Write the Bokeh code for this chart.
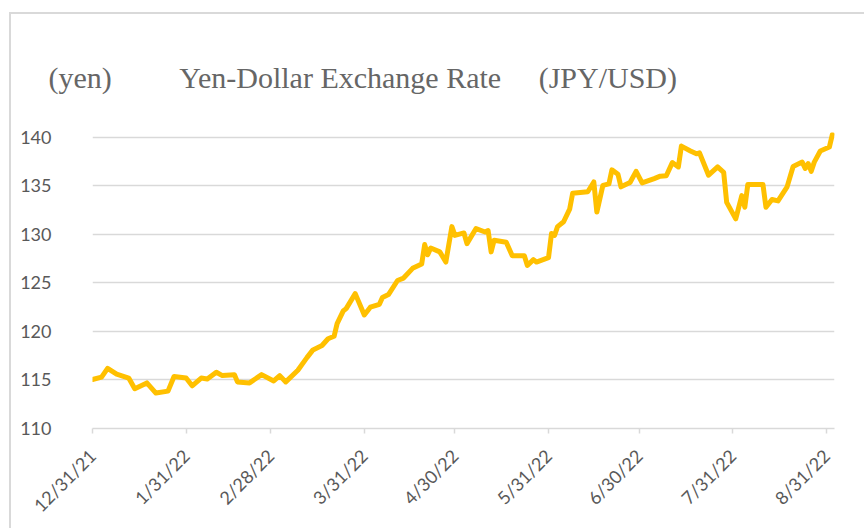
import pandas as pd
from bokeh.plotting import figure
from bokeh.models import FixedTicker, Title, Range1d
from bokeh.embed import file_html
from bokeh.resources import INLINE

dates = [
    "2021-12-31", "2022-01-03", "2022-01-05", "2022-01-08", "2022-01-12", "2022-01-14",
    "2022-01-18", "2022-01-21", "2022-01-25", "2022-01-27", "2022-01-31", "2022-02-02",
    "2022-02-05", "2022-02-07", "2022-02-10", "2022-02-12", "2022-02-16", "2022-02-17",
    "2022-02-21", "2022-02-25", "2022-03-01", "2022-03-03", "2022-03-05", "2022-03-09",
    "2022-03-12", "2022-03-14", "2022-03-17", "2022-03-19", "2022-03-21", "2022-03-22",
    "2022-03-24", "2022-03-25", "2022-03-28", "2022-03-31", "2022-04-02", "2022-04-05",
    "2022-04-06", "2022-04-08", "2022-04-11", "2022-04-13", "2022-04-16", "2022-04-19",
    "2022-04-20", "2022-04-21", "2022-04-22", "2022-04-25", "2022-04-27", "2022-04-29",
    "2022-04-30", "2022-05-03", "2022-05-04", "2022-05-07", "2022-05-10", "2022-05-11",
    "2022-05-12", "2022-05-13", "2022-05-17", "2022-05-19", "2022-05-23", "2022-05-24",
    "2022-05-26", "2022-05-27", "2022-05-31", "2022-06-01", "2022-06-02", "2022-06-03",
    "2022-06-05", "2022-06-07", "2022-06-08", "2022-06-13", "2022-06-15", "2022-06-16",
    "2022-06-18", "2022-06-20", "2022-06-21", "2022-06-23", "2022-06-24", "2022-06-27",
    "2022-06-29", "2022-07-01", "2022-07-05", "2022-07-07", "2022-07-09", "2022-07-11",
    "2022-07-13", "2022-07-14", "2022-07-17", "2022-07-19", "2022-07-20", "2022-07-23",
    "2022-07-26", "2022-07-28", "2022-07-29", "2022-08-01", "2022-08-03", "2022-08-04",
    "2022-08-05", "2022-08-10", "2022-08-11", "2022-08-13", "2022-08-15", "2022-08-18",
    "2022-08-20", "2022-08-23", "2022-08-24", "2022-08-25", "2022-08-26", "2022-08-27",
    "2022-08-29", "2022-09-01", "2022-09-02",
]
rates = [
    115.05, 115.3, 116.2, 115.6, 115.2, 114.1,
    114.7, 113.65, 113.85, 115.35, 115.2, 114.4,
    115.2, 115.1, 115.8, 115.45, 115.55, 114.8,
    114.7, 115.55, 114.9, 115.45, 114.8, 116.0,
    117.3, 118.1, 118.55, 119.25, 119.5, 120.8,
    122.1, 122.35, 123.9, 121.7, 122.5, 122.8,
    123.5, 123.8, 125.25, 125.5, 126.5, 126.95,
    128.95, 127.9, 128.6, 128.2, 127.15, 130.8,
    129.9, 130.15, 129.05, 130.6, 130.25, 130.4,
    128.2, 129.4, 129.2, 127.8, 127.8, 126.8,
    127.4, 127.15, 127.6, 130.1, 129.9, 130.8,
    131.3, 132.6, 134.25, 134.4, 135.4, 132.3,
    135.05, 135.2, 136.65, 136.2, 134.9, 135.35,
    136.5, 135.3, 135.75, 136.0, 136.05, 137.4,
    136.95, 139.1, 138.6, 138.3, 138.4, 136.1,
    136.95, 136.4, 133.3, 131.6, 134.0, 132.8,
    135.15, 135.15, 132.8, 133.6, 133.45, 134.9,
    137.0, 137.45, 136.8, 137.3, 136.5, 137.45,
    138.6, 139.0, 140.3,
]
tick_dates = ["2021-12-31", "2022-01-31", "2022-02-28", "2022-03-31", "2022-04-30",
              "2022-05-31", "2022-06-30", "2022-07-31", "2022-08-31"]
tick_labels = ["12/31/21", "1/31/22", "2/28/22", "3/31/22", "4/30/22",
               "5/31/22", "6/30/22", "7/31/22", "8/31/22"]
y_ticks = [110, 115, 120, 125, 130, 135, 140]

title_parts = ["(yen)", "Yen-Dollar Exchange Rate", "(JPY/USD)"]

start = pd.Timestamp(dates[0])
x = [(pd.Timestamp(d) - start).days for d in dates]
tx = [(pd.Timestamp(d) - start).days for d in tick_dates]

OX, OY = 11, 14  # page offset of the figure content (margin + border)

p = figure(width=866 - OX, height=530 - OY, output_backend="svg", toolbar_location=None,
           x_range=Range1d(0, 245.7), y_range=Range1d(110, 140.5),
           min_border_left=92 - OX, min_border_right=32, min_border_top=132 - OY,
           min_border_bottom=102,
           styles={"margin-left": "9px", "margin-top": "12px",
                   "border-left": "2px solid #d9d9d9", "border-top": "2px solid #d9d9d9"})
p.outline_line_color = None
p.background_fill_color = "white"
p.border_fill_color = "white"

p.line(x, rates, line_color="#FFC000", line_width=5, line_join="round", line_cap="round")

# axes
p.xaxis.ticker = FixedTicker(ticks=tx)
p.xaxis.major_label_overrides = {t: l for t, l in zip(tx, tick_labels)}
p.xaxis.major_label_orientation = 0.785398
p.xaxis.axis_line_color = "#d9d9d9"
p.xaxis.axis_line_width = 1.5
p.xaxis.major_tick_line_color = "#d9d9d9"
p.xaxis.major_tick_line_width = 1.5
p.xaxis.major_tick_out = 5
p.xaxis.major_tick_in = 0
p.xaxis.minor_tick_line_color = None
p.xaxis.major_label_text_font = "Lato"
p.xaxis.major_label_text_font_size = "18px"
p.xaxis.major_label_text_color = "#595959"
p.xaxis.major_label_standoff = 19

p.yaxis.ticker = FixedTicker(ticks=y_ticks)
p.yaxis.axis_line_color = None
p.yaxis.major_tick_line_color = None
p.yaxis.minor_tick_line_color = None
p.yaxis.major_label_text_font = "Lato"
p.yaxis.major_label_text_font_size = "18px"
p.yaxis.major_label_text_color = "#595959"
p.yaxis.major_label_standoff = 35

p.xgrid.grid_line_color = None
p.ygrid.grid_line_color = "#d9d9d9"
p.ygrid.grid_line_width = 1.5

sp = "\u00a0"
title_text = title_parts[0] + sp * 9 + title_parts[1] + sp * 5 + title_parts[2]
p.add_layout(Title(text=title_text, align="left", offset=-44, standoff=77,
                   text_font="Liberation Serif", text_font_size="30px",
                   text_font_style="normal", text_color="#666666"), "above")

open("out.html", "w").write(file_html(p, INLINE))
